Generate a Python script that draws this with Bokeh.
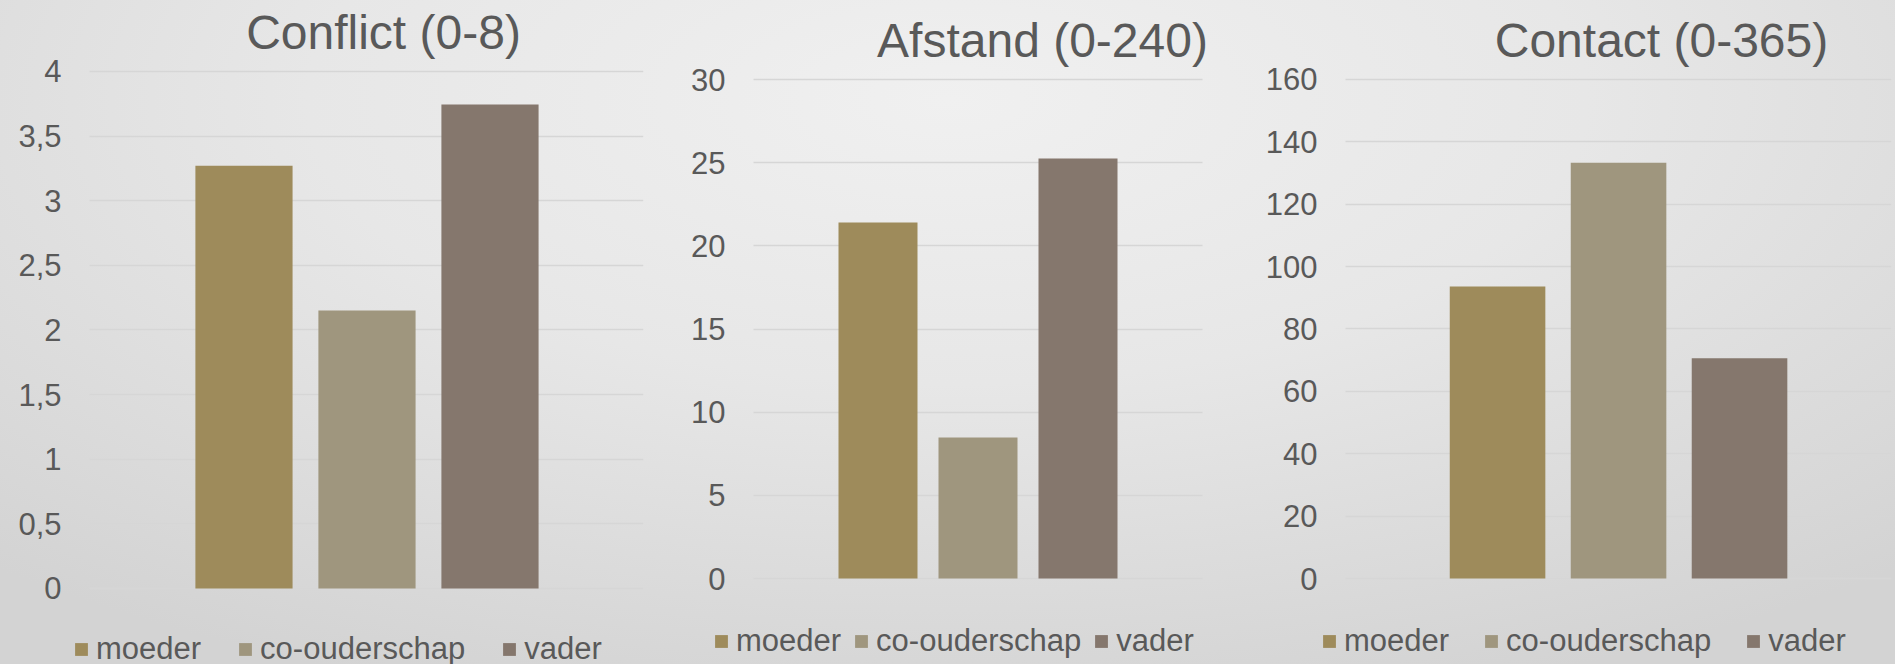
from bokeh.plotting import figure
from bokeh.models import ColumnDataSource, Range1d, FixedTicker, Label, Grid
from bokeh.layouts import row
from bokeh.embed import file_html
from bokeh.resources import INLINE

# ---- data ----
categories = ["moeder", "co-ouderschap", "vader"]
palette = ["#9e8b5b", "#9f967e", "#85776d"]

conflict_title = "Conflict (0-8)"
conflict_values = [3.27, 2.15, 3.745]
conflict_ticks = [0, 0.5, 1, 1.5, 2, 2.5, 3, 3.5, 4]
conflict_labels = ["0", "0,5", "1", "1,5", "2", "2,5", "3", "3,5", "4"]

afstand_title = "Afstand (0-240)"
afstand_values = [21.4, 8.47, 25.25]
afstand_ticks = [0, 5, 10, 15, 20, 25, 30]
afstand_labels = ["0", "5", "10", "15", "20", "25", "30"]

contact_title = "Contact (0-365)"
contact_values = [93.6, 133.3, 70.6]
contact_ticks = [0, 20, 40, 60, 80, 100, 120, 140, 160]
contact_labels = ["0", "20", "40", "60", "80", "100", "120", "140", "160"]

FONT = "Liberation Sans"
TXT = "#595959"
HAS_CROSS = "cross_bounds" in Grid.properties()


def make_chart(title, values, ticks, labels, width, b_left, b_right, xr, yr,
               grid_x, standoff, title_xy, leg_loc, leg_spacing):
    xs = [i - 1 for i in range(len(categories))]
    src = ColumnDataSource(dict(x=xs, top=values, cat=categories, color=palette))
    p = figure(width=width, height=664, output_backend="svg", toolbar_location=None,
               title=None, x_range=Range1d(*xr), y_range=Range1d(*yr),
               min_border_left=b_left, min_border_right=b_right,
               min_border_top=0, min_border_bottom=0)
    p.vbar(x="x", top="top", bottom=0, width=0.79, color="color", line_color=None,
           legend_field="cat", source=src)
    p.background_fill_alpha = 0
    p.border_fill_alpha = 0
    p.outline_line_color = None
    p.xaxis.visible = False
    p.xgrid.visible = False
    p.ygrid.grid_line_color = "#d6d6d6"
    p.ygrid.grid_line_width = 1.5
    if HAS_CROSS:
        p.ygrid.cross_bounds = grid_x
    ax = p.yaxis[0]
    ax.ticker = FixedTicker(ticks=ticks)
    ax.major_label_overrides = {t: l for t, l in zip(ticks, labels)}
    ax.axis_line_color = None
    ax.major_tick_line_color = None
    ax.minor_tick_line_color = None
    ax.major_tick_out = 0
    ax.minor_tick_out = 0
    ax.major_label_standoff = standoff
    ax.major_label_text_font = FONT
    ax.major_label_text_font_size = "31px"
    ax.major_label_text_color = TXT

    p.add_layout(Label(x=title_xy[0], y=title_xy[1], x_units="screen", y_units="screen",
                       text=title, text_align="center", text_baseline="alphabetic",
                       text_font=FONT, text_font_size="48px", text_color=TXT))

    lg = p.legend[0]
    lg.location = leg_loc
    lg.orientation = "horizontal"
    lg.padding = 0
    lg.margin = 0
    lg.spacing = leg_spacing
    lg.glyph_width = 16
    lg.glyph_height = 16
    lg.label_standoff = 7
    lg.label_text_font = FONT
    lg.label_text_font_size = "31px"
    lg.label_text_color = TXT
    lg.border_line_color = None
    lg.background_fill_alpha = 0
    lg.inactive_fill_alpha = 0
    return p


# chart 1: frame x 73..643, gridlines from 89
p1 = make_chart(conflict_title, conflict_values, conflict_ticks, conflict_labels,
                660, 73, 17, (-2.386, 2.248), (-0.588, 4.549), (-2.256, 2.248),
                12, (310, 632), (0, -3), 36)
# chart 2: frame x 713..1230, gridlines 753..1202
p2 = make_chart(afstand_title, afstand_values, afstand_ticks, afstand_labels,
                570, 53, 0, (-2.645, 2.525), (-5.170, 34.750), (-2.245, 2.245),
                -12, (329, 624), (0, 5), 12)
# chart 3: frame x 1321..1891, gridlines from 1345
p3 = make_chart(contact_title, contact_values, contact_ticks, contact_labels,
                665, 91, 4, (-2.455, 2.256), (-27.575, 185.33), (-2.256, 2.256),
                4, (340, 624), (0, 5), 34)

p = row(p1, p2, p3, styles={
    "background": "radial-gradient(ellipse 75% 95% at 50% 15%, #f0f0f0 0%, #e7e7e7 45%, #d3d3d3 100%)"
})

open("out.html", "w").write(file_html(p, INLINE))
